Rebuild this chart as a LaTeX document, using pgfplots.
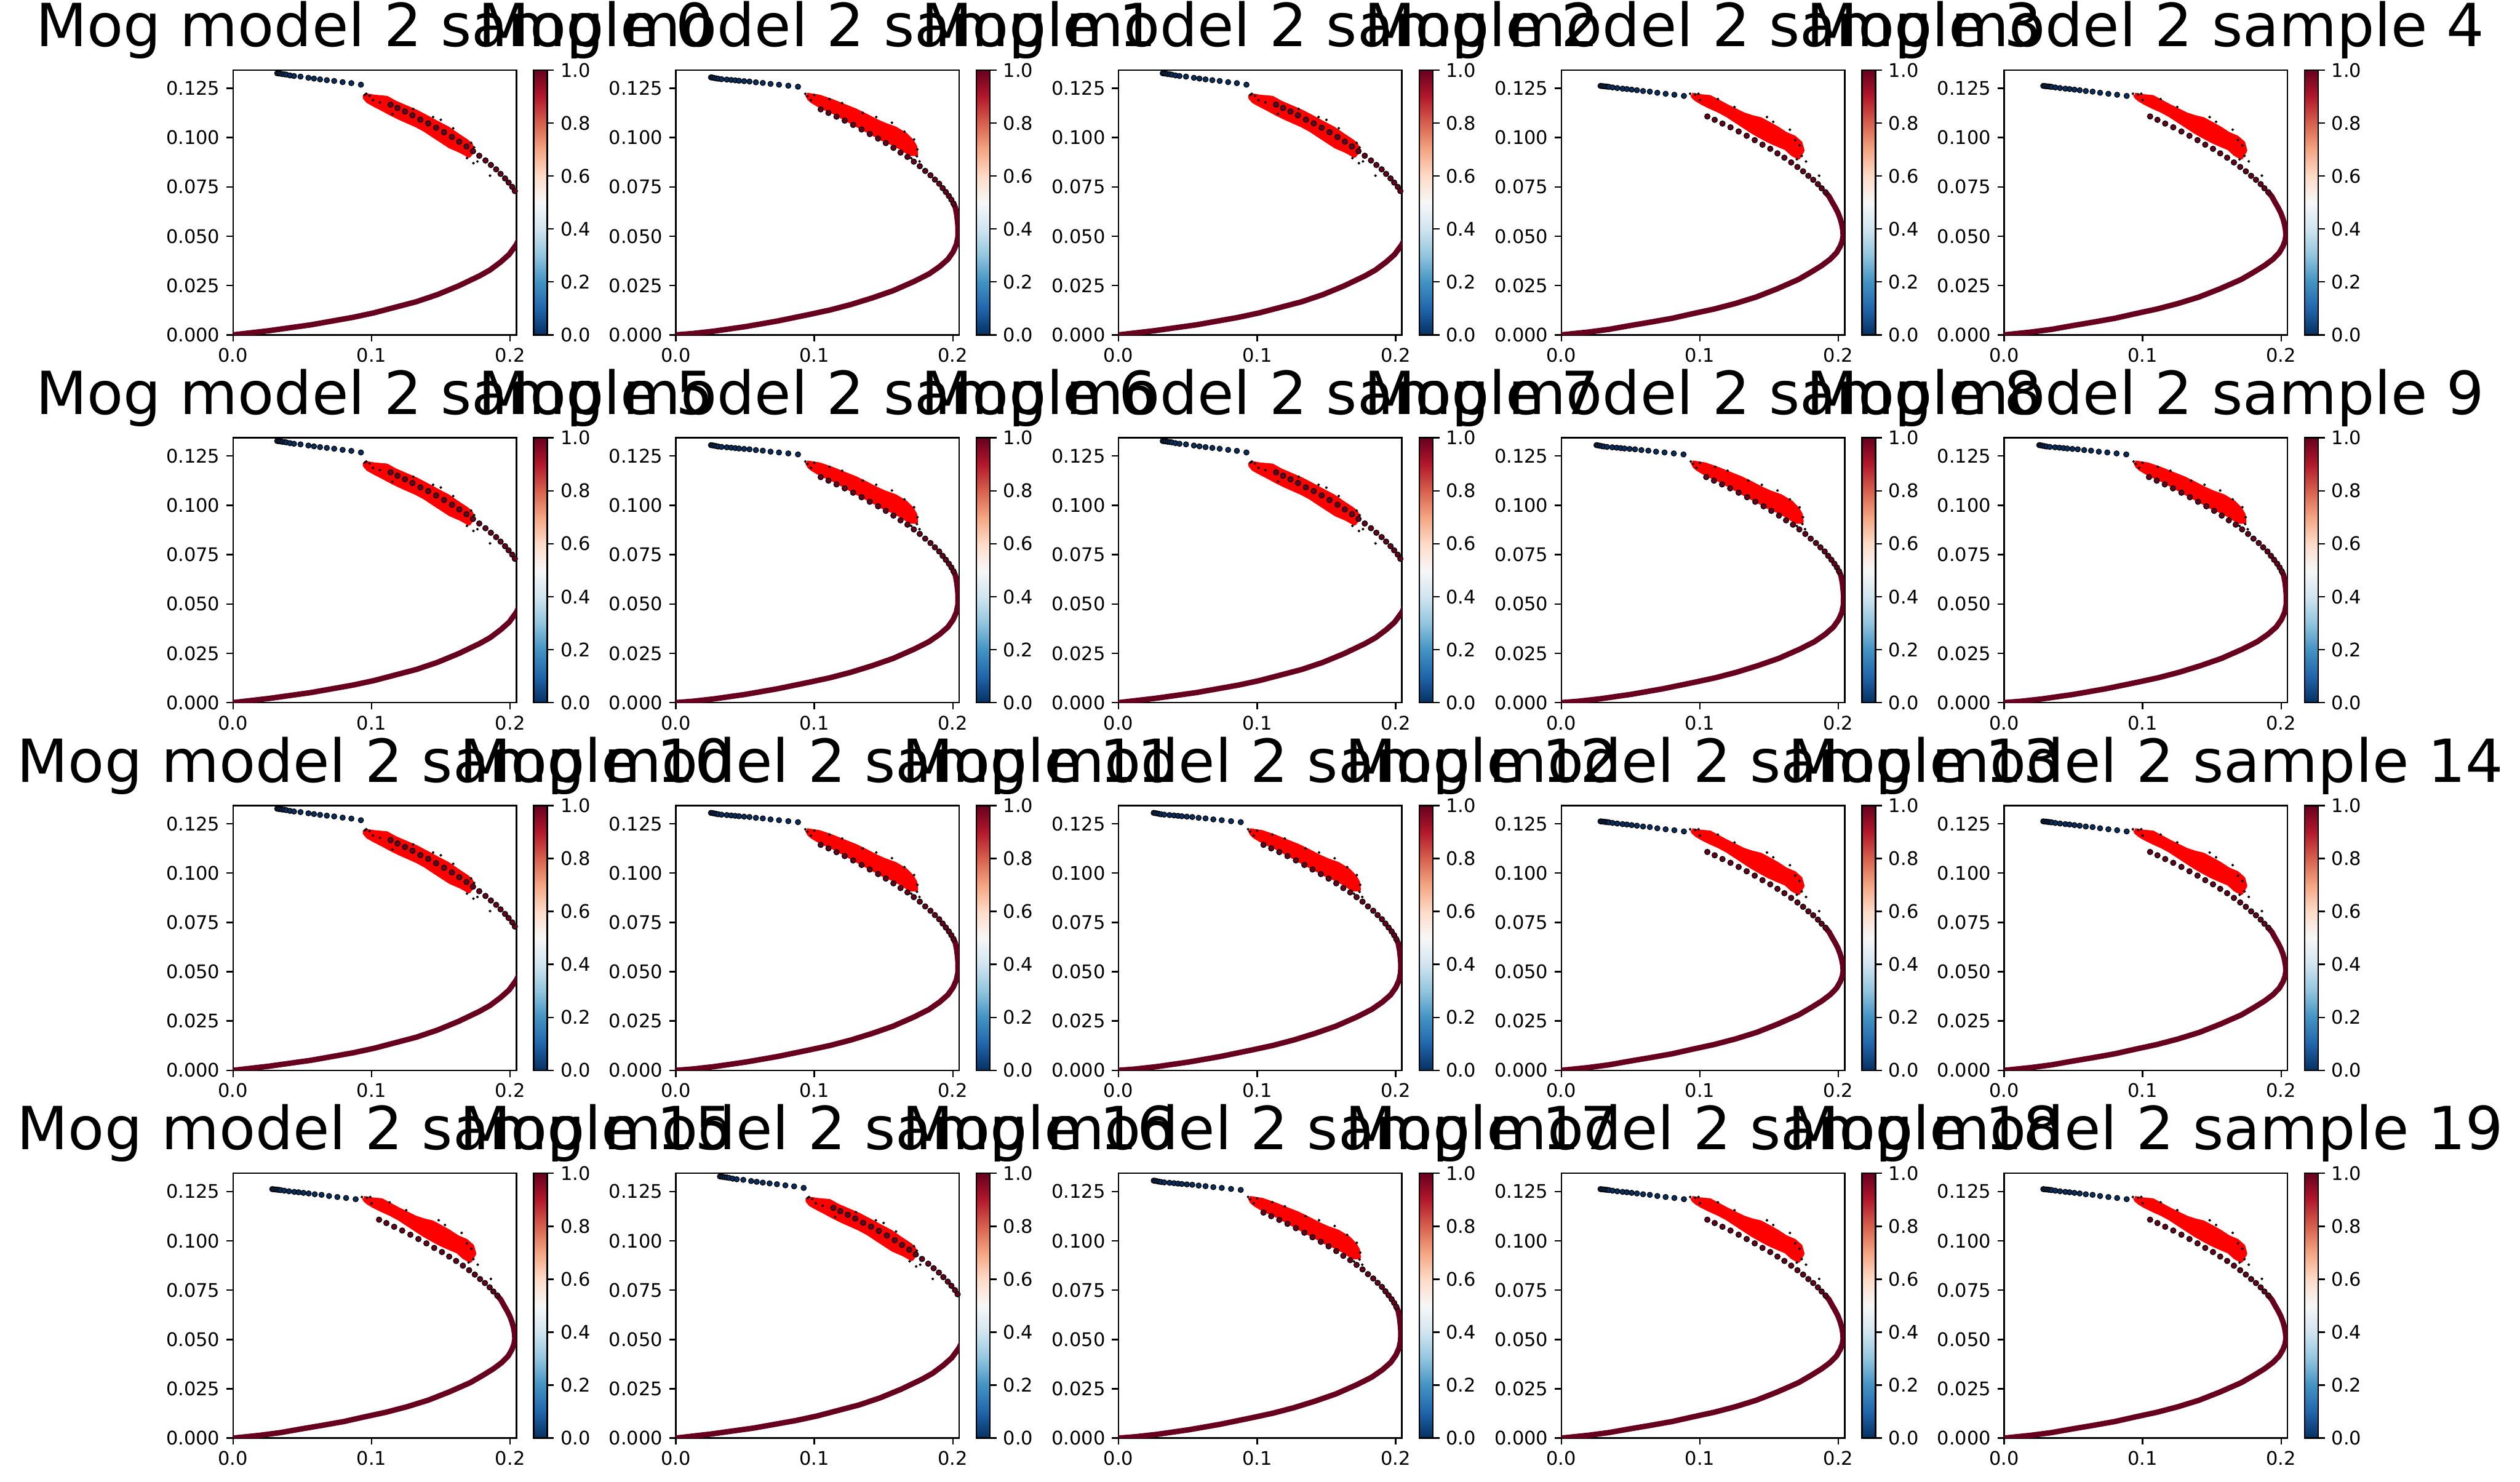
\documentclass[border=0pt]{standalone}
\usepackage{pgfplots}
\pgfplotsset{compat=1.18}
\usepackage{pgfplotstable}
\usepackage{fontspec}
\setmainfont{DejaVu Sans}
\definecolor{dkred}{RGB}{103,0,31}
\definecolor{dkblue}{RGB}{5,48,97}

% ---------- variant A (curve leaves the box on the right) ----------
\pgfplotstableread{
x y
0 0
0.0258 0.0021
0.0563 0.0051
0.0867 0.0089
0.1019 0.0112
0.1171 0.0140
0.1323 0.0168
0.1475 0.0204
0.1627 0.0248
0.1779 0.0299
0.1855 0.0329
0.1931 0.0369
0.1992 0.0407
0.2045 0.0458
0.2080 0.0510
0.2105 0.0570
0.2110 0.0620
0.2095 0.0680
0.2050 0.0730
}\lowA
\pgfplotstableread{
x y
0.1137 0.1167
0.1187 0.1150
0.1241 0.1132
0.1295 0.1113
0.1352 0.1091
0.1409 0.1072
0.1466 0.1050
0.1523 0.1027
0.1580 0.1003
0.1633 0.0979
0.1685 0.0955
0.1732 0.0931
0.1777 0.0908
0.1822 0.0884
0.1861 0.0861
0.1899 0.0839
0.1931 0.0816
0.1963 0.0793
0.1989 0.0772
0.2015 0.0750
0.2034 0.0729
0.2055 0.0710
}\dotsA
\pgfplotstableread{
x y
0.0319 0.1326
0.0330 0.1325
0.0342 0.1324
0.0355 0.1322
0.0370 0.1321
0.0385 0.1319
0.0411 0.1315
0.0440 0.1312
0.0487 0.1309
0.0544 0.1303
0.0584 0.1299
0.0628 0.1295
0.0677 0.1291
0.0730 0.1287
0.0791 0.1281
0.0854 0.1276
0.0923 0.1268
}\blueA
\pgfplotstableread{
x y
0.0950 0.1216
0.1019 0.1208
0.1110 0.1202
0.1171 0.1178
0.1247 0.1155
0.1323 0.1132
0.1399 0.1104
0.1475 0.1075
0.1551 0.1047
0.1627 0.1010
0.1688 0.0982
0.1718 0.0963
0.1733 0.0935
0.1703 0.0907
0.1642 0.0931
0.1566 0.0954
0.1505 0.0982
0.1444 0.1010
0.1384 0.1038
0.1323 0.1061
0.1262 0.1080
0.1201 0.1099
0.1140 0.1120
0.1080 0.1143
0.1019 0.1165
0.0973 0.1183
0.0950 0.1202
0.0950 0.1216
}\cloudA
\pgfplotstableread{
x y
0.0950 0.1216
0.0962 0.1222
0.0985 0.1212
0.1010 0.1190
0.1060 0.1178
0.1150 0.1120
0.1300 0.1145
0.1444 0.1104
0.1500 0.1090
0.1589 0.1047
0.1688 0.0896
0.1718 0.0973
0.1740 0.0950
0.1764 0.0879
0.1735 0.0870
0.1855 0.0807
}\speckA

% ---------- variant B (full turn, dots below the cloud) ----------
\pgfplotstableread{
x y
0 0
0.0192 0.0014
0.0344 0.0028
0.0496 0.0047
0.0648 0.0065
0.0800 0.0084
0.0952 0.0108
0.1104 0.0131
0.1256 0.0159
0.1408 0.0192
0.1560 0.0234
0.1712 0.0281
0.1803 0.0318
0.1879 0.0351
0.1940 0.0383
0.1986 0.0416
0.2013 0.0449
0.2028 0.0477
0.2034 0.0505
0.2031 0.0533
0.2024 0.0561
0.2013 0.0589
0.1998 0.0617
0.1978 0.0645
0.1955 0.0673
0.1933 0.0701
0.1907 0.0723
}\lowB
\pgfplotstableread{
x y
0.1054 0.1107
0.1107 0.1090
0.1163 0.1071
0.1221 0.1052
0.1280 0.1031
0.1338 0.1009
0.1396 0.0987
0.1452 0.0964
0.1508 0.0943
0.1560 0.0920
0.1610 0.0898
0.1659 0.0874
0.1704 0.0851
0.1745 0.0829
0.1783 0.0806
0.1818 0.0786
0.1852 0.0764
0.1879 0.0743
0.1907 0.0723
}\dotsB
\pgfplotstableread{
x y
0.0283 0.1262
0.0295 0.1261
0.0308 0.1260
0.0320 0.1259
0.0333 0.1258
0.0344 0.1257
0.0370 0.1254
0.0404 0.1251
0.0442 0.1248
0.0473 0.1246
0.0508 0.1243
0.0546 0.1240
0.0590 0.1236
0.0639 0.1233
0.0693 0.1227
0.0753 0.1222
0.0816 0.1217
0.0885 0.1211
}\blueB
\pgfplotstableread{
x y
0.0944 0.1218
0.0997 0.1211
0.1073 0.1206
0.1134 0.1183
0.1195 0.1160
0.1256 0.1139
0.1317 0.1118
0.1378 0.1104
0.1438 0.1094
0.1499 0.1071
0.1560 0.1047
0.1621 0.1019
0.1682 0.1001
0.1727 0.0973
0.1742 0.0935
0.1712 0.0898
0.1666 0.0916
0.1621 0.0945
0.1560 0.0963
0.1499 0.0982
0.1438 0.1005
0.1378 0.1029
0.1317 0.1057
0.1256 0.1085
0.1195 0.1113
0.1134 0.1136
0.1073 0.1155
0.1013 0.1176
0.0975 0.1192
0.0952 0.1206
0.0944 0.1218
}\cloudB
\pgfplotstableread{
x y
0.0930 0.1222
0.0967 0.1218
0.0990 0.1222
0.1000 0.1190
0.1130 0.1195
0.1250 0.1155
0.1484 0.1104
0.1530 0.1080
0.1650 0.1040
0.1688 0.0987
0.1720 0.0960
0.1735 0.0907
0.1766 0.0879
0.1700 0.0890
0.1861 0.0807
}\speckB

% ---------- variant C (turn at the right edge, dots just below the cloud) ----------
\pgfplotstableread{
x y
0 0
0.0125 0.0007
0.0277 0.0019
0.0505 0.0042
0.0733 0.0070
0.0961 0.0103
0.1113 0.0126
0.1265 0.0154
0.1417 0.0187
0.1569 0.0224
0.1721 0.0271
0.1828 0.0309
0.1904 0.0346
0.1964 0.0383
0.2002 0.0421
0.2025 0.0458
0.2036 0.0496
0.2037 0.0542
0.2034 0.0570
0.2028 0.0608
0.2018 0.0645
0.2004 0.0666
}\lowC
\pgfplotstableread{
x y
0.1046 0.1143
0.1102 0.1125
0.1160 0.1106
0.1219 0.1086
0.1280 0.1064
0.1341 0.1041
0.1400 0.1018
0.1460 0.0995
0.1516 0.0972
0.1571 0.0948
0.1622 0.0924
0.1672 0.0902
0.1718 0.0878
0.1761 0.0855
0.1800 0.0831
0.1838 0.0809
0.1870 0.0787
0.1901 0.0766
0.1926 0.0744
0.1949 0.0724
0.1971 0.0704
0.1989 0.0685
0.2004 0.0666
}\dotsC
\pgfplotstableread{
x y
0.0254 0.1305
0.0265 0.1304
0.0278 0.1302
0.0292 0.1300
0.0307 0.1298
0.0330 0.1296
0.0368 0.1294
0.0400 0.1292
0.0429 0.1290
0.0456 0.1288
0.0493 0.1286
0.0532 0.1284
0.0578 0.1280
0.0628 0.1277
0.0684 0.1272
0.0745 0.1268
0.0812 0.1263
0.0882 0.1258
}\blueC
\pgfplotstableread{
x y
0.0946 0.1218
0.1037 0.1208
0.1128 0.1186
0.1219 0.1160
0.1295 0.1139
0.1371 0.1113
0.1447 0.1085
0.1508 0.1066
0.1584 0.1047
0.1660 0.1015
0.1706 0.0982
0.1729 0.0954
0.1736 0.0916
0.1691 0.0916
0.1630 0.0945
0.1569 0.0968
0.1493 0.0991
0.1432 0.1015
0.1371 0.1038
0.1311 0.1061
0.1250 0.1085
0.1190 0.1108
0.1128 0.1132
0.1067 0.1150
0.1022 0.1167
0.0984 0.1183
0.0961 0.1197
0.0946 0.1218
}\cloudC
\pgfplotstableread{
x y
0.0935 0.1222
0.0950 0.1210
0.0975 0.1190
0.1000 0.1215
0.1110 0.1195
0.1200 0.1175
0.1350 0.1125
0.1447 0.1104
0.1560 0.1075
0.1650 0.1030
0.1720 0.0990
0.1744 0.0940
0.1759 0.0879
0.1700 0.0895
0.1740 0.0905
}\speckC

\pgfplotsset{
  common/.style={
    anchor=north west, width=151.14pt, height=141.24pt, scale only axis,
    xmin=0, xmax=0.2045, ymin=0, ymax=0.1342,
    xtick={0,0.1,0.2}, ytick={0,0.025,0.05,0.075,0.1,0.125},
    scaled ticks=false,
    xticklabel style={/pgf/number format/.cd, fixed, fixed zerofill, precision=1},
    yticklabel style={/pgf/number format/.cd, fixed, fixed zerofill, precision=3},
    /pgf/number format/assume math mode=true,
    tick label style={font=\fontsize{10}{12}\selectfont},
    tick align=outside, xtick pos=lower, ytick pos=left, major tick length=3.5pt,
    axis line style={line width=0.8pt}, tick style={line width=0.8pt, black},
    title style={font=\fontsize{31.7}{38}\selectfont, anchor=base, yshift=6.6pt},
    colormap={rdbu}{rgb255=(5,48,97) rgb255=(33,102,172) rgb255=(67,147,195) rgb255=(146,197,222) rgb255=(209,229,240) rgb255=(247,247,247) rgb255=(253,219,199) rgb255=(244,165,130) rgb255=(214,96,77) rgb255=(178,24,43) rgb255=(103,0,31)},
    point meta min=0, point meta max=1,
    colorbar,
    colorbar style={
      width=7.26pt, height=141.24pt, scale only axis,
      at={(parent axis.north east)}, anchor=north west, xshift=0.7pt,
      ytick={0,0.2,0.4,0.6,0.8,1},
      yticklabel style={/pgf/number format/.cd, fixed, fixed zerofill, precision=1},
      /pgf/number format/assume math mode=true,
      tick label style={font=\fontsize{10}{12}\selectfont},
      ytick pos=right, yticklabel pos=right, tick align=outside, major tick length=3.5pt,
      axis line style={line width=0.8pt}, tick style={line width=0.8pt, black}
    },
  },
  cloud/.style={no marks, fill=red, draw=red, line width=2pt, line join=round},
  speck/.style={only marks, mark=*, mark size=0.5pt, mark options={draw=none, fill=red}},
  band/.style={no marks, dkred, line width=2.9pt, line cap=round, line join=round},
  dots/.style={only marks, mark=*, mark size=1.45pt, mark options={draw=none, fill=dkred}},
  bdots/.style={only marks, mark=*, mark size=1.4pt, mark options={draw=none, fill=dkblue}},
}

\newcommand{\panel}[8]{%
\begin{axis}[common, at={(#1pt,#2pt)}, title={Mog model 2 sample #3}]
\addplot[band] table {#4};
\addplot[cloud] table {#7};
\addplot[speck] table {#8};
\addplot[dots] table {#5};
\addplot[bdots] table {#6};
\end{axis}}
\newcommand{\pA}[3]{\panel{#1}{#2}{#3}{\lowA}{\dotsA}{\blueA}{\cloudA}{\speckA}}
\newcommand{\pB}[3]{\panel{#1}{#2}{#3}{\lowB}{\dotsB}{\blueB}{\cloudB}{\speckB}}
\newcommand{\pC}[3]{\panel{#1}{#2}{#3}{\lowC}{\dotsC}{\blueC}{\cloudC}{\speckC}}

\begin{document}
\begin{tikzpicture}
\useasboundingbox (0,0) rectangle (1344.2pt,790.46pt);
\pA{124.3}{753.06}{0}
\pC{360.47}{753.06}{1}
\pA{596.64}{753.06}{2}
\pB{832.81}{753.06}{3}
\pB{1068.98}{753.06}{4}
\pA{124.3}{556.89}{5}
\pC{360.47}{556.89}{6}
\pA{596.64}{556.89}{7}
\pC{832.81}{556.89}{8}
\pC{1068.98}{556.89}{9}
\pA{124.3}{360.72}{10}
\pC{360.47}{360.72}{11}
\pC{596.64}{360.72}{12}
\pB{832.81}{360.72}{13}
\pB{1068.98}{360.72}{14}
\pB{124.3}{164.55}{15}
\pA{360.47}{164.55}{16}
\pC{596.64}{164.55}{17}
\pB{832.81}{164.55}{18}
\pB{1068.98}{164.55}{19}
\end{tikzpicture}
\end{document}
